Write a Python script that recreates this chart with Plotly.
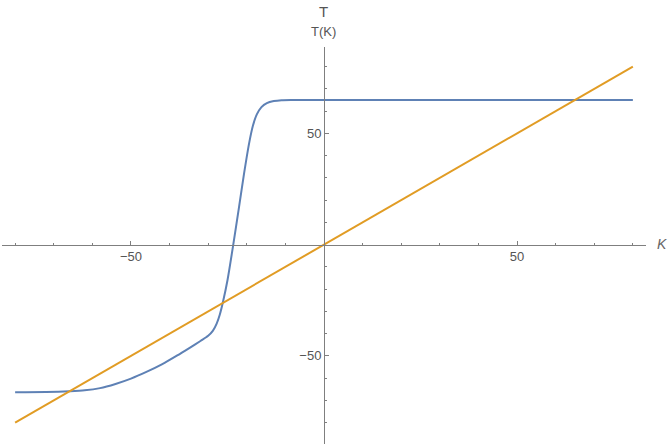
import plotly.graph_objects as go

# Data
k_vals = [-80, -72, -66, -62, -58, -54, -50, -46, -42, -38, -35, -32, -30, -28.8, -27.8, -27.0,
          -26.2, -25.0, -23.5, -22.0, -20.7, -19.4, -18.4, -17.4, -16.2, -14.8, -13.0, -11.0, -8, 0, 40, 80]
t_vals = [-66.3, -66.2, -65.9, -65.5, -64.5, -62.6, -60.2, -57.2, -53.8, -49.8, -46.6, -43.3, -41.0, -38.8, -35.5, -31.5,
          -26.0, -16.0, 0.0, 17.0, 32.0, 45.5, 53.5, 58.5, 61.8, 63.6, 64.5, 64.9, 65.0, 65.0, 65.0, 65.0]
line_x = [-80, 80]
line_y = [-80, 80]

major_ticks = [-50, 50]
minor_ticks = [-80, -70, -60, -40, -30, -20, -10, 10, 20, 30, 40, 60, 70, 80]

xr = [-83.4, 83.4]
yr = [-89.6, 88.8]

fig = go.Figure()
fig.add_trace(go.Scatter(x=k_vals, y=t_vals, mode="lines",
                         line=dict(color="#5E81B5", width=2, shape="spline", smoothing=0.8),
                         hoverinfo="skip", showlegend=False))
fig.add_trace(go.Scatter(x=line_x, y=line_y, mode="lines", line=dict(color="#E19C24", width=2),
                         hoverinfo="skip", showlegend=False))

axis_col = "#7f7f7f"
tick_font = dict(family="Liberation Sans, Arial, sans-serif", size=13, color="#555555")

fig.update_layout(
    width=668, height=446,
    margin=dict(l=2, r=22, t=47, b=2),
    plot_bgcolor="white", paper_bgcolor="white",
    xaxis=dict(range=xr, anchor="free", position=(0 - yr[0]) / (yr[1] - yr[0]),
               showgrid=False, zeroline=False, showline=True, linecolor=axis_col, linewidth=1,
               tickmode="array", tickvals=major_ticks, ticktext=["\u221250", "50"],
               ticks="inside", ticklen=4, tickcolor=axis_col, tickfont=tick_font,
               minor=dict(tickmode="array", tickvals=minor_ticks, ticks="inside", ticklen=2, tickcolor=axis_col)),
    yaxis=dict(range=yr, anchor="free", position=(0 - xr[0]) / (xr[1] - xr[0]),
               showgrid=False, zeroline=False, showline=True, linecolor=axis_col, linewidth=1,
               tickmode="array", tickvals=major_ticks, ticktext=["\u221250", "50"],
               ticks="inside", ticklen=4, tickcolor=axis_col, tickfont=tick_font,
               minor=dict(tickmode="array", tickvals=minor_ticks, ticks="inside", ticklen=2, tickcolor=axis_col)),
    annotations=[
        dict(text="<i>K</i>", xref="paper", yref="paper", x=(662 - 2) / 644, y=(444 - 244) / 397,
             xanchor="center", yanchor="middle",
             showarrow=False, font=dict(family="Liberation Sans, Arial, sans-serif", size=14, color="#666666")),
        dict(text="T", xref="paper", yref="paper", x=(323 - 2) / 644, y=(444 - 11) / 397,
             xanchor="center", yanchor="middle",
             showarrow=False, font=dict(family="Liberation Sans, Arial, sans-serif", size=15, color="#555555")),
        dict(text="T(K)", xref="paper", yref="paper", x=(323 - 2) / 644, y=(444 - 31) / 397,
             xanchor="center", yanchor="middle",
             showarrow=False, font=dict(family="Liberation Sans, Arial, sans-serif", size=13, color="#555555")),
    ],
)

fig.write_html("out.html", config={"displayModeBar": False},
               post_script="document.body.style.margin='0';")
